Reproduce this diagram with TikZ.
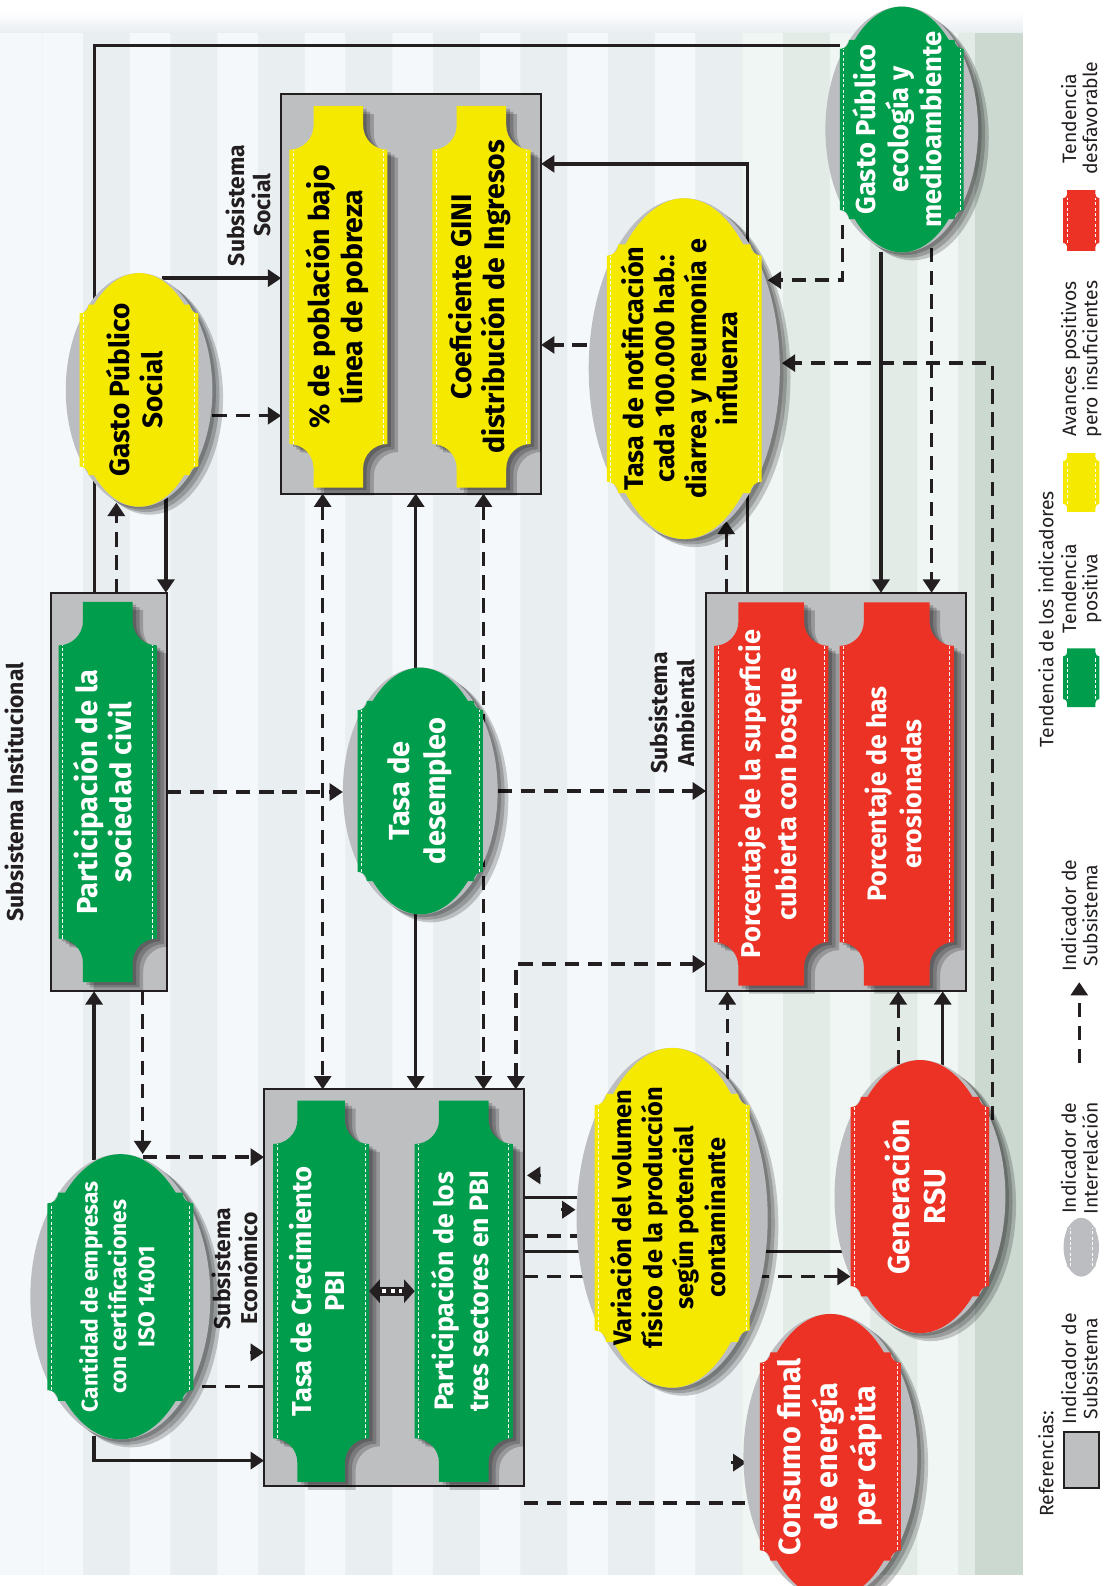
\documentclass[tikz,border=0pt]{standalone}
\usepackage{fontspec}
\setmainfont{Fira Sans}
\usepackage{graphicx}
\usetikzlibrary{arrows.meta,calc}

\definecolor{linkc}{RGB}{35,31,32}
\definecolor{indgreen}{RGB}{0,158,76}
\definecolor{indyellow}{RGB}{245,233,0}
\definecolor{indred}{RGB}{236,50,37}
\definecolor{boxgray}{RGB}{190,191,193}
\definecolor{ellgray}{RGB}{188,189,192}
\definecolor{bgpale}{RGB}{244,248,250}
\definecolor{bgmid}{RGB}{233,238,241}
\definecolor{bgstripe}{RGB}{214,221,225}
\definecolor{bggpale}{RGB}{240,246,243}
\definecolor{bggmid}{RGB}{226,235,230}
\definecolor{bggstripe}{RGB}{204,217,209}

\newcommand{\vtxt}[1]{\rotatebox{90}{\begin{tabular}{@{}c@{}}#1\end{tabular}}}

\pgfdeclarelayer{bg}
\pgfdeclarelayer{links}
\pgfsetlayers{bg,links,main}

\makeatletter
\def\ticketnotch{0.48cm}
\def\tickettab{0.38cm}
\def\badgefill{indgreen}
\def\ticketdims{%
  \southwest\edef\tka{\the\pgf@x}\edef\tkb{\the\pgf@y}%
  \northeast\edef\tkc{\the\pgf@x}\edef\tkd{\the\pgf@y}%
  \pgfmathsetlengthmacro\tkr{\ticketnotch}%
  \pgfmathsetlengthmacro\tkt{\tickettab}}
\def\badgedims{%
  \southwest\edef\bxa{\the\pgf@x}\edef\bya{\the\pgf@y}%
  \northeast\edef\bxb{\the\pgf@x}\edef\byb{\the\pgf@y}%
  \pgfmathsetlengthmacro\bcx{(\bxa+\bxb)/2}%
  \pgfmathsetlengthmacro\bcy{(\bya+\byb)/2}%
  \pgfmathsetlengthmacro\bw{(\bxb-\bxa)/2}%
  \pgfmathsetlengthmacro\bh{(\byb-\bya)/2}}
\pgfdeclareshape{ticket}{%
  \inheritsavedanchors[from=rectangle]%
  \inheritanchorborder[from=rectangle]%
  \inheritanchor[from=rectangle]{center}%
  \inheritanchor[from=rectangle]{north}%
  \inheritanchor[from=rectangle]{south}%
  \inheritanchor[from=rectangle]{east}%
  \inheritanchor[from=rectangle]{west}%
  \inheritanchor[from=rectangle]{north east}%
  \inheritanchor[from=rectangle]{north west}%
  \inheritanchor[from=rectangle]{south east}%
  \inheritanchor[from=rectangle]{south west}%
  \backgroundpath{%
    \ticketdims
    \pgfpathmoveto{\pgfpoint{\tka}{\tkb+\tkt+\tkr}}%
    \pgfpathlineto{\pgfpoint{\tka}{\tkd-\tkt-\tkr}}%
    \pgfpatharc{270}{360}{\tkr}%
    \pgfpathlineto{\pgfpoint{\tka+\tkr}{\tkd}}%
    \pgfpathlineto{\pgfpoint{\tkc-\tkr}{\tkd}}%
    \pgfpathlineto{\pgfpoint{\tkc-\tkr}{\tkd-\tkt}}%
    \pgfpatharc{180}{270}{\tkr}%
    \pgfpathlineto{\pgfpoint{\tkc}{\tkb+\tkt+\tkr}}%
    \pgfpatharc{90}{180}{\tkr}%
    \pgfpathlineto{\pgfpoint{\tkc-\tkr}{\tkb}}%
    \pgfpathlineto{\pgfpoint{\tka+\tkr}{\tkb}}%
    \pgfpathlineto{\pgfpoint{\tka+\tkr}{\tkb+\tkt}}%
    \pgfpatharc{0}{90}{\tkr}%
    \pgfpathclose}%
  \beforebackgroundpath{%
    \ticketdims
    \pgfscope
    \pgfsetstrokecolor{white}\pgfsetlinewidth{0.55pt}\pgfsetdash{{1.8pt}{1.2pt}}{0pt}%
    \pgfpathmoveto{\pgfpoint{\tka+2.3pt}{\tkb+\tkt+\tkr}}%
    \pgfpathlineto{\pgfpoint{\tka+2.3pt}{\tkd-\tkt-\tkr}}%
    \pgfpathmoveto{\pgfpoint{\tkc-2.3pt}{\tkb+\tkt+\tkr}}%
    \pgfpathlineto{\pgfpoint{\tkc-2.3pt}{\tkd-\tkt-\tkr}}%
    \pgfusepath{stroke}%
    \endpgfscope}%
}
\pgfdeclareshape{badge}{%
  \inheritsavedanchors[from=rectangle]%
  \inheritanchorborder[from=rectangle]%
  \inheritanchor[from=rectangle]{center}%
  \inheritanchor[from=rectangle]{north}%
  \inheritanchor[from=rectangle]{south}%
  \inheritanchor[from=rectangle]{east}%
  \inheritanchor[from=rectangle]{west}%
  \inheritanchor[from=rectangle]{north east}%
  \inheritanchor[from=rectangle]{north west}%
  \inheritanchor[from=rectangle]{south east}%
  \inheritanchor[from=rectangle]{south west}%
  \backgroundpath{%
    \badgedims
    \pgfpathellipse{\pgfpoint{\bcx}{\bcy}}{\pgfpoint{\bw}{0pt}}{\pgfpoint{0pt}{\bh}}}%
  \beforebackgroundpath{%
    \badgedims
    \pgfmathsetlengthmacro\ba{0.81*\bw}%
    \pgfmathsetlengthmacro\bhh{0.73*\bh}%
    \pgfmathsetlengthmacro\be{0.9*\bw}%
    \pgfmathsetlengthmacro\bn{0.12*\bw}%
    \pgfmathsetlengthmacro\bxd{0.9*\bw*cos(asin(0.73))}%
    \pgfmathsetmacro\btha{asin(0.73)}%
    \pgfmathsetmacro\bthb{180-\btha}%
    \pgfmathsetmacro\bthc{180+\btha}%
    \pgfmathsetmacro\bthd{360-\btha}%
    \pgfscope
    \pgfsetfillcolor{\badgefill}%
    \pgfpathmoveto{\pgfpoint{\bcx+\ba}{\bcy-\bhh+\bn}}%
    \pgfpathlineto{\pgfpoint{\bcx+\ba}{\bcy+\bhh-\bn}}%
    \pgfpatharc{270}{180}{\bn}%
    \pgfpathlineto{\pgfpoint{\bcx+\bxd}{\bcy+\bhh}}%
    \pgfpatharc{\btha}{\bthb}{\be and \bh}%
    \pgfpathlineto{\pgfpoint{\bcx-\ba+\bn}{\bcy+\bhh}}%
    \pgfpatharc{0}{-90}{\bn}%
    \pgfpathlineto{\pgfpoint{\bcx-\ba}{\bcy-\bhh+\bn}}%
    \pgfpatharc{90}{0}{\bn}%
    \pgfpathlineto{\pgfpoint{\bcx-\bxd}{\bcy-\bhh}}%
    \pgfpatharc{\bthc}{\bthd}{\be and \bh}%
    \pgfpathlineto{\pgfpoint{\bcx+\ba-\bn}{\bcy-\bhh}}%
    \pgfpatharc{180}{90}{\bn}%
    \pgfpathclose
    \pgfusepath{fill}%
    \pgfsetstrokecolor{white}\pgfsetlinewidth{0.55pt}\pgfsetdash{{1.8pt}{1.2pt}}{0pt}%
    \pgfpathmoveto{\pgfpoint{\bcx+\ba-2pt}{\bcy-\bhh+\bn}}%
    \pgfpathlineto{\pgfpoint{\bcx+\ba-2pt}{\bcy+\bhh-\bn}}%
    \pgfpathmoveto{\pgfpoint{\bcx-\ba+2pt}{\bcy-\bhh+\bn}}%
    \pgfpathlineto{\pgfpoint{\bcx-\ba+2pt}{\bcy+\bhh-\bn}}%
    \pgfusepath{stroke}%
    \endpgfscope}%
}
\makeatother

\tikzset{
  ticket notch/.code={\def\ticketnotch{#1}},
  ticket tab/.code={\def\tickettab{#1}},
  badge fill/.code={\def\badgefill{#1}},
  drop/.style={preaction={fill=black,opacity=0.2,transform canvas={shift={(2pt,-1.5pt)}}},
               preaction={fill=black,opacity=0.2,transform canvas={shift={(4pt,-3pt)}}},
               preaction={fill=black,opacity=0.2,transform canvas={shift={(6pt,-4.5pt)}}}},
  sysbox/.style={draw=linkc,line width=1.2pt,fill=boxgray,inner sep=0pt,outer sep=0pt},
  indsis/.style={shape=ticket,inner sep=0pt,outer sep=0pt},
  indint/.style={shape=badge,fill=ellgray,inner sep=0pt,outer sep=0pt},
  wtxt/.style={text=white},
  btxt/.style={text=black},
  txt/.style 2 args={font=\bfseries\fontsize{#1}{#2}\selectfont},
  sublbl/.style={font=\bfseries\fontsize{12.9}{14.5}\selectfont,text=linkc,inner sep=0pt},
  legtxt/.style={font=\fontsize{10.9}{11.8}\selectfont,text=linkc,inner sep=0pt},
  link/.style={draw=linkc,line width=1.9pt},
  dlink/.style={link,dash pattern=on 8pt off 5pt},
  >={Triangle[length=7.5pt,width=9.5pt]}
}

\begin{document}
\begin{tikzpicture}[x=0.02cm,y=-0.02cm]
\useasboundingbox (0,0) rectangle (1094,1568);
\begin{pgfonlayer}{bg}
    \fill[bgmid] (0,12) rectangle (1011,1557);
    \fill[bgpale] (0,30) rectangle (42,1557);
    \foreach \k [evaluate=\k as \sx using 42+86.5*\k] in {0,...,7}
        \fill[bgstripe] (\sx,30) rectangle (\sx+11,1557) (\sx+11,30) [fill=bgpale] rectangle (\sx+40,1557);
    \foreach \k [evaluate=\k as \sx using 42+86.5*\k] in {8,...,10}
        \fill[bggmid] (\sx,30) rectangle (\sx+86.5,1557);
    \foreach \k [evaluate=\k as \sx using 42+86.5*\k] in {8,...,10}
        \fill[bggstripe] (\sx,30) rectangle (\sx+11,1557) (\sx+11,30) [fill=bggpale] rectangle (\sx+40,1557);
    \fill[bggstripe] (964,30) rectangle (1011,1557);
    \shade[top color=white,bottom color=bgmid] (0,12) rectangle (1011,32);
\end{pgfonlayer}

\node[sysbox, minimum width=5.14cm, minimum height=7.9cm] (socbox) at (406.5,290.5) {};
\node[indsis, drop, fill=indyellow, btxt, txt={16}{17.5}, minimum width=1.94cm, minimum height=7.54cm] (pobreza) at (334.5,293.5) {\vtxt{\% de población bajo\\línea de pobreza}};
\node[indsis, drop, fill=indyellow, btxt, txt={16}{17.5}, minimum width=1.94cm, minimum height=7.54cm] (gini) at (476,293.5) {\vtxt{Coeficiente GINI\\distribución de Ingresos}};
\node[sublbl] (lblsoc) at (249,203) {\vtxt{Subsistema\\Social}};

\node[sysbox, minimum width=2.3cm, minimum height=7.88cm] (inbox) at (107.5,783) {};
\node[indsis, drop, fill=indgreen, wtxt, txt={16.3}{19}, minimum width=1.94cm, minimum height=7.52cm] (sociedad) at (106.5,783) {\vtxt{Participación de la\\sociedad civil}};
\node[sublbl] (lblinst) at (18,783) {\vtxt{Subsistema Institucional}};

\node[sysbox, minimum width=5.14cm, minimum height=7.88cm] (ambbox) at (826.5,783) {};
\node[indsis, drop, fill=indred, wtxt, txt={15.3}{20}, minimum width=2.26cm, minimum height=7.58cm] (bosque) at (762.5,785) {\vtxt{Porcentaje de la superficie\\cubierta con bosque}};
\node[indsis, drop, fill=indred, wtxt, txt={15}{20}, minimum width=2.26cm, minimum height=7.58cm] (erosion) at (886.5,785) {\vtxt{Porcentaje de has\\erosionadas}};
\node[sublbl] (lblamb) at (668,705) {\vtxt{Subsistema\\Ambiental}};

\node[sysbox, minimum width=5.14cm, minimum height=7.84cm] (econbox) at (389.5,1273) {};
\node[indsis, drop, fill=indgreen, wtxt, txt={15.4}{19}, minimum width=1.9cm, minimum height=7.54cm] (crecimiento) at (317.5,1276.5) {\vtxt{Tasa de Crecimiento\\PBI}};
\node[indsis, drop, fill=indgreen, wtxt, txt={15}{20}, minimum width=1.94cm, minimum height=7.54cm] (sectores) at (458.5,1276.5) {\vtxt{Participación de los\\tres sectores en PBI}};
\node[sublbl] (lbleco) at (236,1254) {\vtxt{Subsistema\\Económico}};

\node[indint, drop, badge fill=indyellow, btxt, txt={15.7}{18}, minimum width=2.9cm, minimum height=4.62cm] (gps) at (137.5,385.5) {\vtxt{Gasto Público\\Social}};
\node[indint, drop, badge fill=indgreen, wtxt, txt={15.4}{18.5}, minimum width=3.02cm, minimum height=4.86cm] (ecologia) at (891.5,128) {\vtxt{Gasto Público\\ecología y\\medioambiente}};
\node[indint, drop, badge fill=indyellow, btxt, txt={15.2}{17.5}, minimum width=3.78cm, minimum height=6.74cm] (notif) at (676.5,364.5) {\vtxt{Tasa de notificación\\cada 100.000 hab.:\\diarrea y neumonía e\\influenza}};
\node[indint, drop, badge fill=indgreen, wtxt, txt={16.3}{20}, minimum width=3.06cm, minimum height=4.88cm] (desempleo) at (415.5,782) {\vtxt{Tasa de\\desempleo}};
\node[indint, drop, badge fill=indgreen, wtxt, txt={12.8}{16}, minimum width=3.56cm, minimum height=5.64cm] (cantidad) at (119,1282) {\vtxt{Cantidad de empresas\\con certificaciones\\ISO 14001}};
\node[indint, drop, badge fill=indyellow, btxt, txt={14.3}{17.5}, minimum width=3.78cm, minimum height=6.72cm] (variacion) at (664.5,1204) {\vtxt{Variación del volumen\\físico de la producción\\según potencial\\contaminante}};
\node[indint, drop, badge fill=indred, wtxt, txt={17}{20.5}, minimum width=3.38cm, minimum height=5.4cm] (rsu) at (909.5,1183) {\vtxt{Generación\\RSU}};
\node[indint, drop, badge fill=indred, wtxt, txt={17.2}{21}, minimum width=3.44cm, minimum height=5.64cm] (consumo) at (821,1440) {\vtxt{Consumo final\\de energía\\per cápita}};

\draw[linkc, line width=5pt, {Triangle[length=6pt,width=13pt]}-{Triangle[length=6pt,width=13pt]}] (crecimiento.east) -- (sectores.west);
\draw[white, line width=2.2pt, dash pattern=on 2.5pt off 2.5pt, shorten <=7pt, shorten >=7pt] (crecimiento.east) -- (sectores.west);

\begin{pgfonlayer}{links}
    \draw[link] ($(ecologia.west)+(14,-83)$) -| ($(inbox.north)+(-14,0)$);
    \draw[link,->] ($(gps.center)+(22.5,-110.5)$) coordinate (g1) -- (g1 -| socbox.west);
    \draw[dlink,->] ($(gps.east)+(0,25.5)$) coordinate (g2) -- (g2 -| socbox.west);
    \draw[dlink,->] ($(inbox.north)+(7.5,0)$) coordinate (p1) -- ($(p1 |- gps.south)+(0,-4)$);
    \draw[link,->] ($(gps.center)+(26.5,105)$) coordinate (g3) -- (g3 |- inbox.north);
    \draw[dlink,->] (inbox.east) -- (inbox.east -| desempleo.west);
    \draw[dlink,->] (desempleo.east) -- (desempleo.east -| ambbox.west);
    \draw[link,->] ($(desempleo.north)+(-4.5,0)$) coordinate (d1) -- (d1 |- socbox.south);
    \draw[link,->] ($(desempleo.south)+(-4.5,0)$) coordinate (d2) -- (d2 |- econbox.north);
    \draw[dlink,<->] ($(socbox.south)+(-87.5,0)$) coordinate (s1) -- (s1 |- econbox.north);
    \draw[dlink,<->] ($(socbox.south)+(71.5,0)$) coordinate (s2) -- (s2 |- econbox.north);
    \draw[dlink,<->] ($(econbox.north)+(120.5,0)$) |- ($(ambbox.west)+(0,170)$);
    \draw[dlink,->] ($(inbox.south)+(33.5,0)$) coordinate (i1) -- (i1 |- cantidad.north);
    \draw[dlink,->] ($(i1 |- cantidad.north)+(0,3)$) coordinate (i2) -- (i2 -| econbox.west);
    \draw[link,->] ($(cantidad.north)+(-26,6)$) coordinate (c1) -- (c1 |- inbox.south);
    \draw[link,->] ($(cantidad.south)+(-26,-3)$) |- ($(econbox.west)+(0,171)$);
    \draw[dlink] ($(cantidad.east)+(-8,89)$) coordinate (c3) -- (c3 -| econbox.west);
    \draw[link,->] ($(econbox.west)+(-14,64)$) -- ($(econbox.west)+(0,64)$);
    \draw[dlink,->] ($(notif.west)+(-2,-23.5)$) coordinate (n1) -- (n1 -| socbox.east);
    \draw[link,->] ($(ambbox.north)+(-87.5,0)$) |- ($(socbox.east)+(0,-128.5)$);
    \draw[dlink,->] ($(ambbox.north)+(-108.5,0)$) coordinate (a2) -- ($(a2 |- notif.south)+(0,-18)$);
    \draw[link,->] ($(ecologia.south)+(-20.5,0)$) coordinate (k1) -- (k1 |- ambbox.north);
    \draw[dlink,->] ($(ecologia.south)+(29.5,-27)$) coordinate (k2) -- (k2 |- ambbox.north);
    \draw[dlink,->] ($(ecologia.west)+(17,94)$) |- ($(notif.center)+(82.5,-87.5)$);
    \draw[dlink,->] ($(rsu.east)+(-13,-76)$) |- ($(notif.east)+(2,-5.5)$);
    \draw[dlink,->] ($(variacion.north)+(54.5,31)$) coordinate (v1) -- (v1 |- ambbox.south);
    \draw[dlink,->] ($(rsu.north)+(-21.5,4)$) coordinate (r1) -- (r1 |- ambbox.south);
    \draw[link,->] ($(rsu.north)+(22.5,6)$) coordinate (r2) -- (r2 |- ambbox.south);
    \draw[link] ($(econbox.east)+(0,-89)$) coordinate (x1) -- (x1 -| variacion.west);
    \draw[dlink] ($(econbox.east)+(0,-51)$) coordinate (x2) -- (x2 -| variacion.west);
    \draw[link] ($(econbox.east)+(0,-36)$) coordinate (x3) -- ($(x3 -| rsu.west)+(7,0)$);
    \draw[dlink,->] ($(econbox.east)+(0,-11)$) coordinate (x4) -- ($(x4 -| rsu.west)+(16,0)$);
    \draw[link,->] ($(econbox.east)+(17,-111)$) -- ($(econbox.east)+(3,-111)$);
    \draw[link,->] ($(variacion.west)+(-15,-8)$) -- ($(variacion.west)+(-1,-8)$);
    \draw[dlink] ($(econbox.east)+(0,213)$) coordinate (x5) -- ($(x5 -| consumo.west)+(2,0)$);
    \draw[link,->] ($(consumo.west)+(-12,6)$) -- ($(consumo.west)+(3,6)$);
\end{pgfonlayer}

\node[legtxt] (legref) at (1037,1447) {\vtxt{Referencias:}};
\node[sysbox, minimum width=0.7cm, minimum height=1.1cm] (legbox) at (1069,1443.5) {};
\node[legtxt] (legboxtxt) at (1070,1353) {\vtxt{Indicador de\\Subsistema}};
\node[indint, badge fill=ellgray, minimum width=0.7cm, minimum height=1.16cm] (legell) at (1069,1233) {};
\node[legtxt] (legelltxt) at (1070,1145) {\vtxt{Indicador de\\Interrelación}};
\coordinate (legarrow) at (1067,1051);
\draw[dlink,->] (legarrow) -- ++(0,-80);
\node[legtxt] (legarrowtxt) at (1070,905) {\vtxt{Indicador de\\Subsistema}};
\node[legtxt] (legtend) at (1037,612) {\vtxt{Tendencia de los indicadores}};
\node[indsis, fill=indgreen, ticket notch=0.08cm, ticket tab=0.08cm, minimum width=0.72cm, minimum height=1.16cm] (leggreen) at (1069,670) {};
\node[legtxt] (leggreentxt) at (1070,582) {\vtxt{Tendencia\\positiva}};
\node[indsis, fill=indyellow, ticket notch=0.08cm, ticket tab=0.08cm, minimum width=0.72cm, minimum height=1.16cm] (legyellow) at (1069,477) {};
\node[legtxt] (legyellowtxt) at (1070,355) {\vtxt{Avances positivos\\pero insuficientes}};
\node[indsis, fill=indred, ticket notch=0.08cm, ticket tab=0.08cm, minimum width=0.72cm, minimum height=1.2cm] (legred) at (1069,218) {};
\node[legtxt] (legredtxt) at (1070,117) {\vtxt{Tendencia\\desfavorable}};
\end{tikzpicture}
\end{document}
